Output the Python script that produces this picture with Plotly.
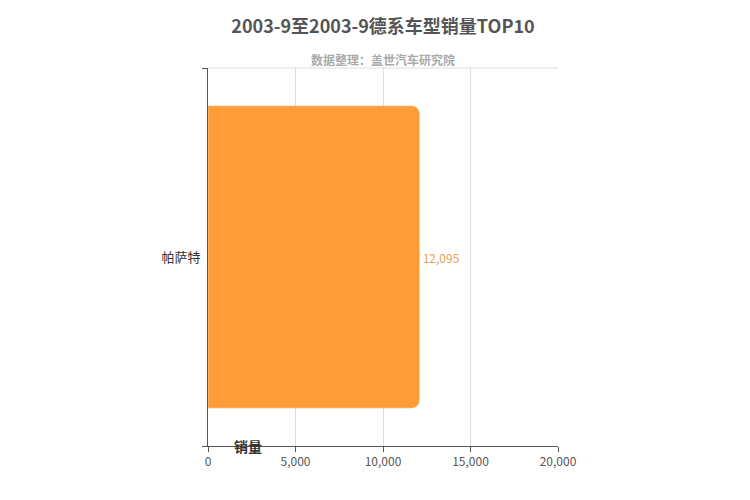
import plotly.graph_objects as go

models = ["帕萨特"]
sales = [12095]
x_ticks = [0, 5000, 10000, 15000, 20000]

fig = go.Figure(go.Bar(
    y=models, x=sales, orientation="h",
    marker=dict(color="#ff9c35", cornerradius=8),
    width=0.8,
    text=[f"{v:,}" for v in sales], textposition="outside",
    textfont=dict(color="#f0a050", size=12, family="Noto Sans CJK SC"),
    cliponaxis=False,
))

fig.update_layout(
    width=750, height=500,
    margin=dict(l=200, r=200, t=60, b=62),
    paper_bgcolor="white", plot_bgcolor="white",
    font=dict(family="Noto Sans CJK SC", color="#333"),
    showlegend=False,
    title=dict(text="<b>2003-9至2003-9德系车型销量TOP10</b>", x=0.5, y=0.975,
               xanchor="center", yanchor="top",
               font=dict(size=18, color="#555")),
    annotations=[
        dict(text="<b>数据整理：盖世汽车研究院</b>", x=0.5, y=1.05, xref="paper", yref="paper",
             showarrow=False, font=dict(size=12, color="#aaa")),
        dict(text="<b>销量</b>", x=550, y=0, xref="x", yref="paper", xanchor="left", yanchor="middle",
             xshift=14, showarrow=False, font=dict(size=14, color="#333")),
    ],
    shapes=[dict(type="line", xref="paper", yref="paper", x0=0, x1=1, y0=1, y1=1,
                 line=dict(color="#ddd", width=1))],
)
fig.update_xaxes(range=[0, 20000], tickvals=x_ticks, tickformat=",",
                 showgrid=True, gridcolor="#ddd", zeroline=False,
                 showline=True, linecolor="#555", ticks="outside", ticklen=5, tickcolor="#555",
                 tickfont=dict(size=12, color="#555"))
fig.update_yaxes(showline=True, linecolor="#555", ticks="outside", tickson="boundaries",
                 ticklen=5, tickcolor="#555", tickfont=dict(size=13, color="#333"),
                 ticklabelstandoff=4)

fig.write_html("out.html")
